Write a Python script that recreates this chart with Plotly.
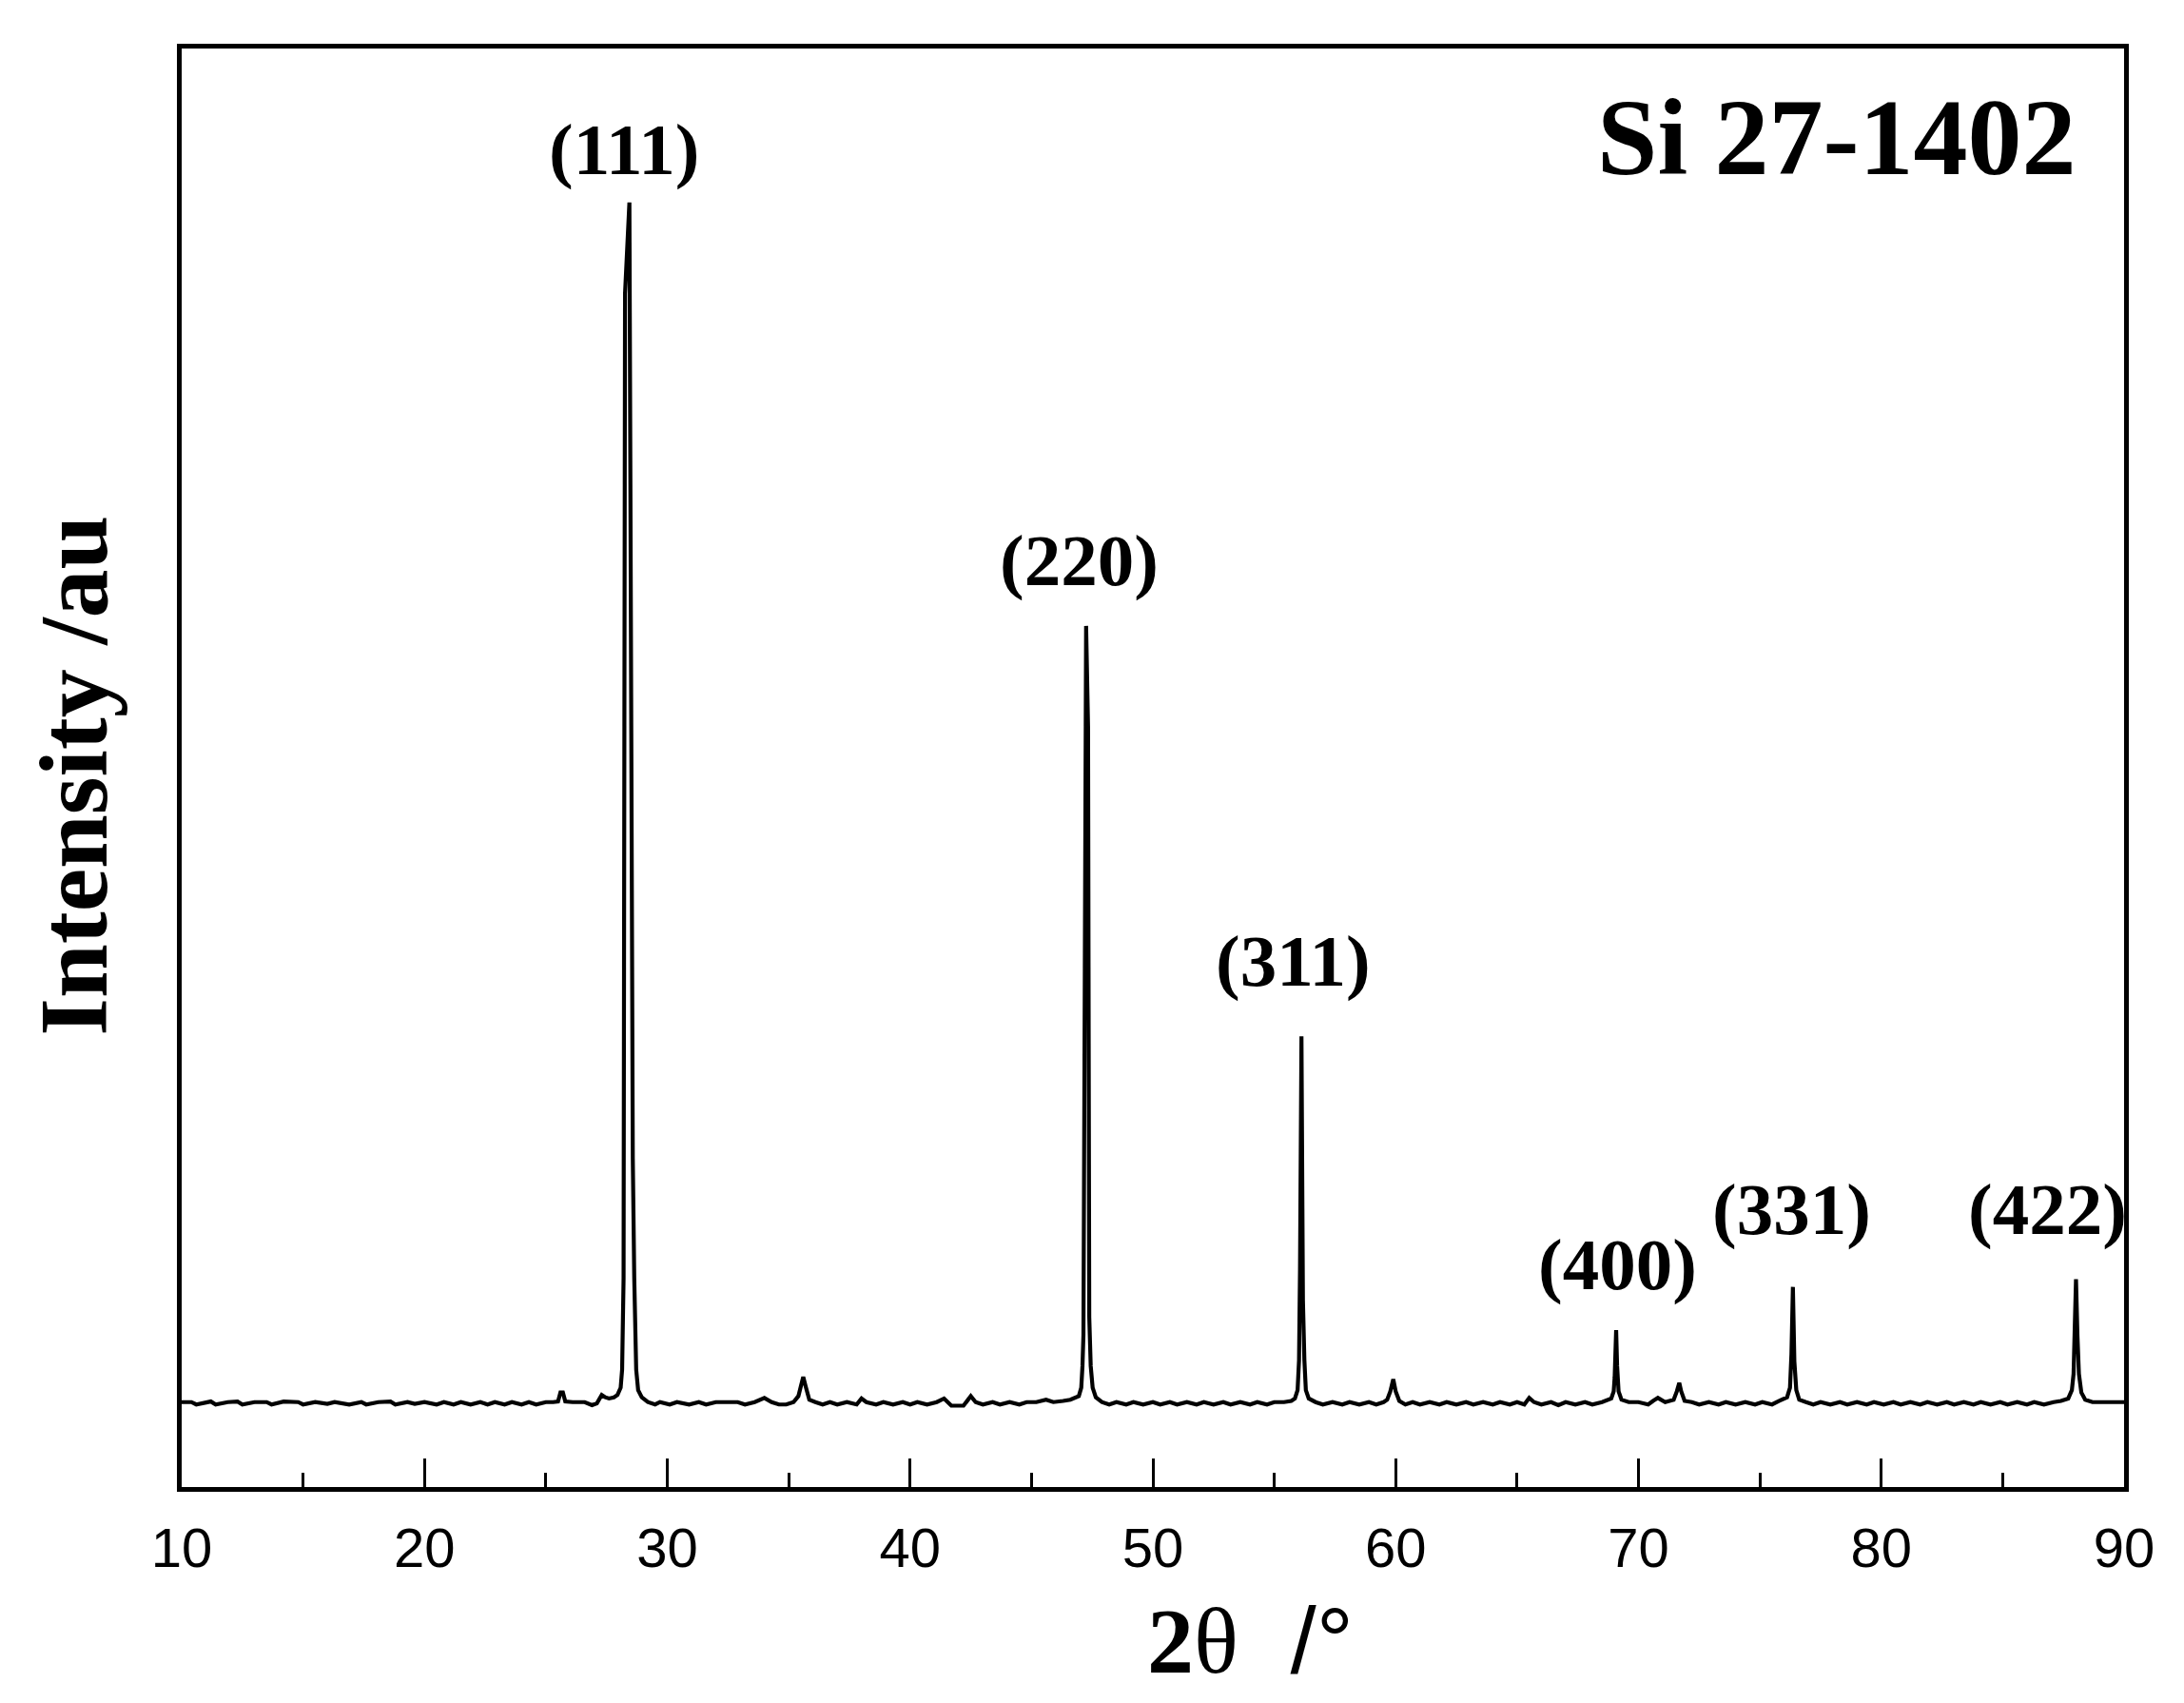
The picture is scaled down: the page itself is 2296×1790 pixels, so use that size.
import plotly.graph_objects as go

# XRD pattern (2theta in degrees, intensity relative to (111) = 100)
two_theta = [
    10.0, 10.4, 10.6, 11.2, 11.4, 11.9, 12.3, 12.5, 13.0, 13.5,
    13.7, 14.2, 14.8, 15.0, 15.5, 16.0, 16.3, 16.9, 17.4, 17.6,
    18.1, 18.6, 18.8, 19.3, 19.6, 20.0, 20.5, 20.8, 21.2, 21.5,
    21.9, 22.3, 22.6, 22.9, 23.3, 23.6, 24.0, 24.3, 24.6, 25.0,
    25.3, 25.5, 25.6, 25.7, 25.8, 26.1, 26.6, 26.9, 27.1, 27.3,
    27.45, 27.6, 27.8, 27.95, 28.08, 28.14, 28.2, 28.26, 28.44, 28.58,
    28.64, 28.72, 28.8, 28.95, 29.2, 29.5, 29.7, 30.1, 30.4, 30.9,
    31.3, 31.6, 32.0, 32.4, 32.9, 33.2, 33.6, 34.0, 34.3, 34.6,
    34.9, 35.2, 35.4, 35.5, 35.6, 35.7, 35.85, 36.1, 36.4, 36.7,
    37.0, 37.4, 37.8, 38.0, 38.2, 38.6, 38.9, 39.3, 39.7, 40.0,
    40.3, 40.7, 41.1, 41.4, 41.7, 42.2, 42.5, 42.7, 43.0, 43.4,
    43.7, 44.1, 44.5, 44.8, 45.2, 45.6, 45.9, 46.3, 46.6, 46.95,
    47.05, 47.1, 47.14, 47.18, 47.25, 47.33, 47.38, 47.44, 47.52, 47.65,
    47.9, 48.2, 48.5, 48.9, 49.2, 49.6, 50.0, 50.3, 50.7, 51.0,
    51.4, 51.8, 52.1, 52.5, 52.9, 53.2, 53.6, 54.0, 54.3, 54.7,
    55.0, 55.4, 55.7, 55.85, 55.96, 56.02, 56.06, 56.12, 56.18, 56.24,
    56.3, 56.42, 56.7, 57.0, 57.4, 57.8, 58.1, 58.5, 58.9, 59.2,
    59.5, 59.65, 59.78, 59.9, 60.0, 60.15, 60.4, 60.7, 61.0, 61.4,
    61.8, 62.1, 62.5, 62.9, 63.2, 63.6, 64.0, 64.3, 64.7, 65.0,
    65.3, 65.5, 65.7, 66.0, 66.4, 66.7, 67.0, 67.4, 67.8, 68.1,
    68.5, 68.88, 68.98, 69.02, 69.08, 69.12, 69.18, 69.3, 69.6, 70.0,
    70.4, 70.6, 70.8, 71.1, 71.45, 71.58, 71.68, 71.76, 71.9, 72.2,
    72.5, 72.9, 73.3, 73.6, 74.0, 74.4, 74.8, 75.1, 75.5, 75.8,
    76.12, 76.24, 76.3, 76.36, 76.42, 76.5, 76.62, 76.9, 77.2, 77.5,
    77.9, 78.3, 78.6, 79.0, 79.4, 79.7, 80.1, 80.5, 80.8, 81.2,
    81.6, 81.9, 82.3, 82.7, 83.0, 83.4, 83.8, 84.1, 84.5, 84.9,
    85.2, 85.6, 86.0, 86.3, 86.7, 87.1, 87.4, 87.7, 87.85, 87.92,
    87.97, 88.02, 88.08, 88.14, 88.24, 88.4, 88.7, 89.0, 89.4, 89.7,
    90.0,
]
intensity = [
    0.0, 0.0, -0.2, 0.05, -0.2, 0.0, 0.05, -0.2, 0.0, 0.0,
    -0.2, 0.05, 0.0, -0.2, 0.0, -0.15, 0.0, -0.2, 0.0, -0.2,
    0.0, 0.05, -0.2, 0.0, -0.15, 0.0, -0.2, 0.0, -0.2, 0.0,
    -0.2, 0.0, -0.2, 0.0, -0.2, 0.0, -0.2, 0.0, -0.2, 0.0,
    0.0, 0.05, 0.8, 0.8, 0.05, 0.0, 0.0, -0.25, -0.1, 0.6,
    0.4, 0.3, 0.4, 0.6, 1.2, 2.7, 10.3, 92.4, 100.0, 20.3,
    10.3, 2.7, 1.0, 0.4, 0.0, -0.2, 0.0, -0.2, 0.0, -0.2,
    0.0, -0.2, 0.0, 0.0, 0.0, -0.2, 0.0, 0.35, 0.0, -0.2,
    -0.2, 0.0, 0.5, 1.3, 2.1, 1.3, 0.2, 0.0, -0.2, 0.0,
    -0.2, 0.0, -0.2, 0.3, 0.0, -0.2, 0.0, -0.2, 0.0, -0.2,
    0.0, -0.2, 0.0, 0.3, -0.3, -0.3, 0.5, 0.0, -0.2, 0.0,
    -0.2, 0.0, -0.2, 0.0, 0.0, 0.2, 0.0, 0.1, 0.2, 0.5,
    1.2, 3.0, 5.6, 26.7, 64.7, 56.3, 7.1, 3.0, 1.2, 0.4,
    0.0, -0.2, 0.0, -0.2, 0.0, -0.2, 0.0, -0.2, 0.0, -0.2,
    0.0, -0.2, 0.0, -0.2, 0.0, -0.2, 0.0, -0.2, 0.0, -0.2,
    0.0, 0.0, 0.1, 0.3, 1.0, 3.5, 11.0, 30.5, 8.5, 3.5,
    1.0, 0.3, 0.0, -0.2, 0.0, -0.2, 0.0, -0.2, 0.0, -0.2,
    0.0, 0.2, 0.9, 1.9, 0.9, 0.1, -0.2, 0.0, -0.2, 0.0,
    -0.2, 0.0, -0.2, 0.0, -0.2, 0.0, -0.2, 0.0, -0.2, 0.0,
    -0.2, 0.35, 0.0, -0.2, 0.0, -0.25, 0.0, -0.2, 0.0, -0.2,
    0.0, 0.3, 0.9, 2.1, 6.0, 3.0, 0.9, 0.2, 0.0, 0.0,
    -0.2, 0.1, 0.35, 0.0, 0.2, 0.9, 1.6, 0.9, 0.1, 0.0,
    -0.2, 0.0, -0.2, 0.0, -0.2, 0.0, -0.2, 0.0, -0.2, 0.1,
    0.4, 1.2, 4.0, 9.6, 3.4, 1.0, 0.2, 0.0, -0.2, 0.0,
    -0.2, 0.0, -0.2, 0.0, -0.2, 0.0, -0.2, 0.0, -0.2, 0.0,
    -0.2, 0.0, -0.2, 0.0, -0.2, 0.0, -0.2, 0.0, -0.2, 0.0,
    -0.2, 0.0, -0.2, 0.0, -0.2, 0.0, 0.1, 0.3, 1.0, 2.35,
    5.5, 10.25, 5.5, 2.35, 0.8, 0.2, 0.0, 0.0, 0.0, 0.0,
    0.0,
]
assert len(two_theta) == len(intensity)

# Peak labels (Miller indices) and their label anchor positions
peak_labels = ["(111)", "(220)", "(311)", "(400)", "(331)", "(422)"]
label_x = [28.23, 46.97, 55.77, 69.13, 76.30, 86.85]
label_y = [104.4, 70.2, 36.8, 11.45, 16.05, 16.05]

x_ticks = [10, 20, 30, 40, 50, 60, 70, 80, 90]

SERIF = "Times New Roman, Liberation Serif, serif"
SANS = "Arial, Liberation Sans, sans-serif"

fig = go.Figure()
fig.add_trace(go.Scatter(
    x=two_theta, y=intensity, mode="lines",
    line=dict(color="black", width=4.2),
    showlegend=False, hoverinfo="skip",
))

for t, lx, ly in zip(peak_labels, label_x, label_y):
    fig.add_annotation(
        x=lx, y=ly, xref="x", yref="y", text="<b>" + t + "</b>",
        showarrow=False, xanchor="center", yanchor="middle",
        font=dict(family=SERIF, size=77, color="black"),
    )

fig.add_annotation(
    x=0.9765, y=0.9382, xref="paper", yref="paper",
    text="<b>Si 27-1402</b>", showarrow=False,
    xanchor="right", yanchor="middle",
    font=dict(family=SERIF, size=114, color="black"),
)

# axis titles
fig.add_annotation(
    x=-0.0556, y=0.4946, xref="paper", yref="paper",
    text="<b>Intensity /au</b>", showarrow=False, textangle=-90,
    xanchor="center", yanchor="middle",
    font=dict(family=SERIF, size=102, color="black"),
)
fig.add_annotation(
    x=0.5504, y=-0.1065, xref="paper", yref="paper",
    text="<b>2</b>θ<span style='font-family:Arial, Liberation Sans, sans-serif'>  /°</span>",
    showarrow=False, xanchor="center", yanchor="middle",
    font=dict(family=SERIF, size=98, color="black"),
)

fig.update_layout(
    width=2296, height=1790,
    margin=dict(l=183, r=71, t=43, b=235),
    paper_bgcolor="white", plot_bgcolor="white",
    xaxis=dict(
        range=[10, 90], tickvals=x_ticks, ticktext=[str(v) for v in x_ticks],
        ticks="inside", ticklen=30, tickwidth=3, tickcolor="black",
        minor=dict(ticks="inside", ticklen=15, tickwidth=3, dtick=5, tick0=10, tickcolor="black"),
        showline=True, linewidth=4.5, linecolor="black", mirror=True,
        showgrid=False, zeroline=False,
        tickfont=dict(family=SANS, size=58, color="black"),
        ticklabelstandoff=10,
    ),
    yaxis=dict(
        range=[-7.08, 112.83], showticklabels=False, ticks="",
        showline=True, linewidth=4.5, linecolor="black", mirror=True,
        showgrid=False, zeroline=False,
    ),
)

fig.write_html("out.html")
